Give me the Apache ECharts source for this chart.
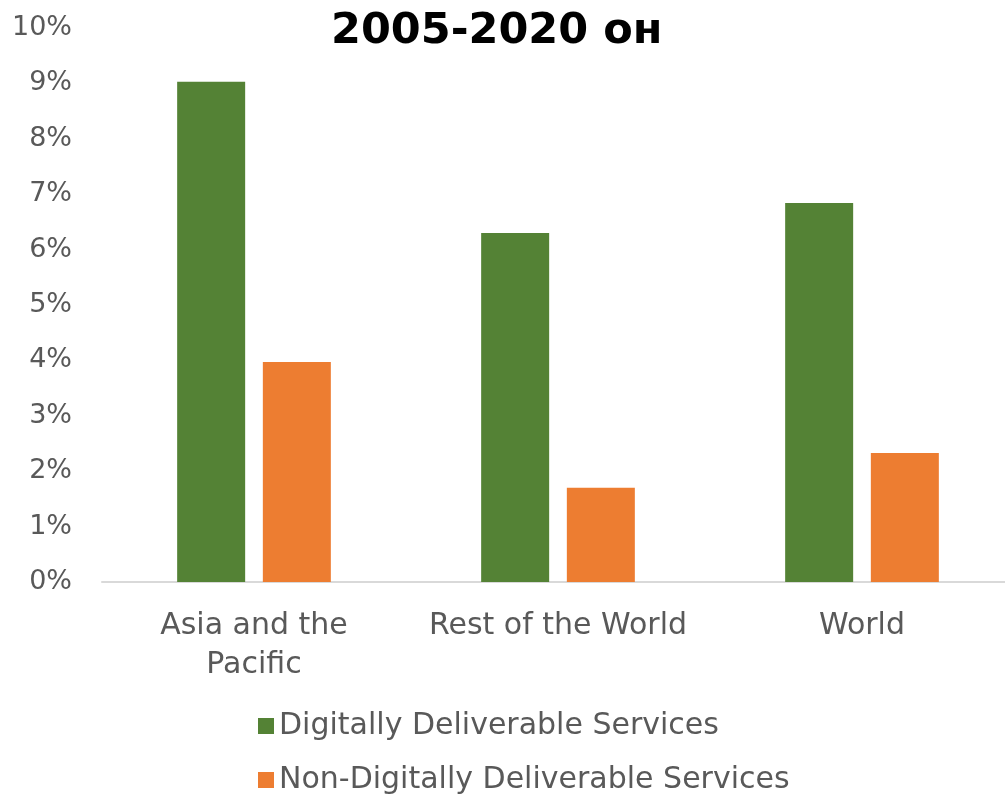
<!DOCTYPE html>
<html>
<head>
<meta charset="utf-8">
<script src="https://cdn.jsdelivr.net/npm/echarts@6/dist/echarts.min.js"></script>
<style>html,body{margin:0;padding:0;background:#fff;overflow:hidden;width:1005px;height:794px}#c{width:1014px;height:794px}</style>
</head>
<body>
<div id="c"></div>
<script>
const titleText = '2005-2020 он';
const categories = ['Asia and the\nPacific', 'Rest of the World', 'World'];
const seriesNames = ['Digitally Deliverable Services', 'Non-Digitally Deliverable Services'];
const digital = [9.03, 6.30, 6.84];
const nonDigital = [3.97, 1.70, 2.33];
const yTicks = [0, 1, 2, 3, 4, 5, 6, 7, 8, 9, 10];

const font = 'DejaVu Sans';
const legendStyle = (name, top) => ({
  orient: 'vertical', left: 253, top: top, itemWidth: 16, itemHeight: 16,
  icon: 'rect',
  textStyle: {fontFamily: font, fontSize: 30, color: '#595959'},
  data: [name]
});
const chart = echarts.init(document.getElementById('c'));
chart.setOption({
  animation: false,
  title: {
    text: titleText, left: 326, top: 5,
    textStyle: {fontFamily: font, fontWeight: 'bold', fontSize: 43, color: '#000'}
  },
  grid: {left: 102, top: 28, right: 0, bottom: 212, containLabel: false},
  legend: [legendStyle(seriesNames[0], 706), legendStyle(seriesNames[1], 760)],
  xAxis: {
    type: 'category', data: categories,
    axisLine: {lineStyle: {color: '#d9d9d9', width: 2}},
    axisTick: {show: false},
    axisLabel: {fontFamily: font, fontSize: 30, color: '#595959', margin: 25, lineHeight: 39, interval: 0}
  },
  yAxis: {
    type: 'value', min: yTicks[0], max: yTicks[yTicks.length - 1], interval: 1,
    axisLine: {show: false}, axisTick: {show: false}, splitLine: {show: false},
    axisLabel: {fontFamily: font, fontSize: 27, color: '#595959', margin: 30, formatter: v => v + '%'}
  },
  series: [
    {name: seriesNames[0], type: 'bar', data: digital, barWidth: 68, barGap: '26%', itemStyle: {color: '#548235'}},
    {name: seriesNames[1], type: 'bar', data: nonDigital, barWidth: 68, itemStyle: {color: '#ed7d31'}}
  ]
});
</script>
</body>
</html>
